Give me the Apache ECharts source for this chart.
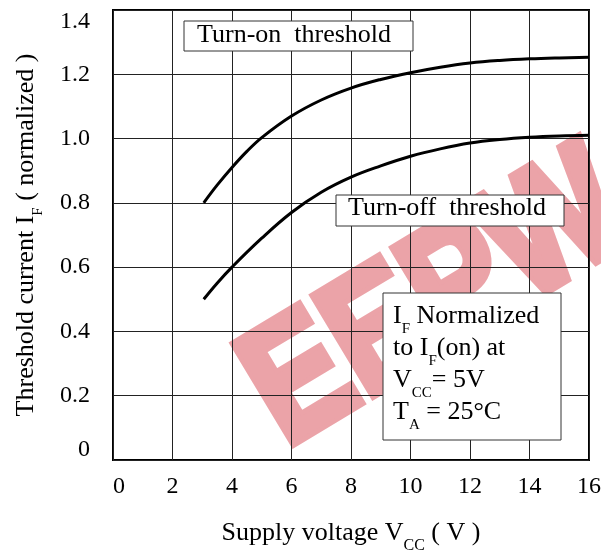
<!DOCTYPE html>
<html>
<head>
<meta charset="utf-8">
<script src="https://cdn.jsdelivr.net/npm/echarts@6/dist/echarts.min.js"></script>
<style>
html,body{margin:0;padding:0;background:#fff;}
#c{width:601px;height:553px;}
</style>
</head>
<body>
<div id="c"></div>
<script>
// ---- data ----
const xTickLabels = ['0','2','4','6','8','10','12','14','16'];
const yTickLabels = ['0','0.2','0.4','0.6','0.8','1.0','1.2','1.4'];
const vccOn  = [3.05, 3.5, 4.0, 4.5, 5.0, 6.0, 7.0, 8.0, 9.0, 10.0, 11.0, 12.0, 13.0, 14.0, 15.0, 16.0];
const ifOn   = [0.80, 0.855, 0.91, 0.96, 1.003, 1.07, 1.12, 1.157, 1.184, 1.205, 1.222, 1.235, 1.243, 1.248, 1.251, 1.253];
const vccOff = [3.05, 3.5, 4.0, 5.0, 6.0, 7.0, 8.0, 9.0, 10.0, 11.0, 12.0, 13.0, 14.0, 15.0, 16.0];
const ifOff  = [0.50, 0.55, 0.60, 0.69, 0.77, 0.833, 0.88, 0.915, 0.945, 0.968, 0.986, 0.997, 1.004, 1.008, 1.01];
const labelOn = 'Turn-on  threshold';
const labelOff = 'Turn-off  threshold';
const noteText = '{n|I}{s|F}{n| Normalized}\n{n|to I}{s|F}{n|(on) at}\n{n|V}{s|CC}{n|= 5V}\n{n|T}{s|A}{n| = 25°C}';
const xName = '{n|Supply voltage V}{s|CC}{n| ( V )}';
const yName = '{n|Threshold current I}{s|F}{n| ( normalized )}';
const watermark = 'EEPW';

const ff = "'Liberation Serif','Times New Roman',serif";
const pair = (xs, ys) => xs.map((x, i) => [x, ys[i]]);

const chart = echarts.init(document.getElementById('c'), null, {renderer: 'canvas'});
const subBox = {fontSize: 15, fontFamily: ff, color: '#000', lineHeight: 4, verticalAlign: 'top', padding: [22, 0, 0, 0]};
const subAxis = {fontSize: 16, fontFamily: ff, color: '#000', lineHeight: 4, verticalAlign: 'top', padding: [20, 0, 0, 0]};
const subY = {fontSize: 15, fontFamily: ff, color: '#000', lineHeight: 4, verticalAlign: 'top', padding: [20, 0, 0, 0]};

chart.setOption({
  animation: false,
  backgroundColor: '#fff',
  grid: {left: 113, right: 12, top: 10, bottom: 93, outerBoundsMode: 'none', containLabel: false,
         show: true, borderColor: '#000', borderWidth: 2, backgroundColor: 'transparent'},
  xAxis: {
    type: 'value', min: 0, max: 16, interval: 2,
    axisLine: {show: false}, axisTick: {show: false},
    splitLine: {show: true, lineStyle: {color: '#222', width: 1}},
    axisLabel: {
      color: '#000', fontFamily: ff, fontSize: 24, margin: 15,
      formatter: v => { const s = xTickLabels[Math.round(v / 2)]; return v === 0 ? '{l|' + s + '}' : s; },
      rich: {l: {padding: [0, 0, 0, 12], fontSize: 24, fontFamily: ff, color: '#000'}}
    },
    name: xName, nameLocation: 'middle', nameGap: 58,
    nameTextStyle: {rich: {n: {fontSize: 26, fontFamily: ff, color: '#000', lineHeight: 30}, s: subAxis}}
  },
  yAxis: {
    type: 'value', min: 0, max: 1.4, interval: 0.2,
    axisLine: {show: false}, axisTick: {show: false},
    splitLine: {show: true, lineStyle: {color: '#222', width: 1}},
    axisLabel: {
      color: '#000', fontFamily: ff, fontSize: 24, margin: 23,
      formatter: v => {
        const i = Math.round(v / 0.2); const s = yTickLabels[i];
        if (i === 7) return '{t|' + s + '}';
        if (i === 0) return '{b|' + s + '}';
        return s;
      },
      rich: {
        t: {padding: [24, 0, 0, 0], fontSize: 24, fontFamily: ff, color: '#000'},
        b: {padding: [0, 0, 20, 0], fontSize: 24, fontFamily: ff, color: '#000'}
      }
    },
    name: yName, nameLocation: 'middle', nameRotate: 90, nameGap: 72,
    nameTextStyle: {rich: {n: {fontSize: 26, fontFamily: ff, color: '#000', lineHeight: 30}, s: subY}}
  },
  series: [
    {type: 'line', data: pair(vccOn, ifOn), smooth: 0.4, showSymbol: false, lineStyle: {color: '#000', width: 3}, z: 3},
    {type: 'line', data: pair(vccOff, ifOff), smooth: 0.4, showSymbol: false, lineStyle: {color: '#000', width: 3}, z: 3}
  ],
  graphic: [
    {type: 'text', z: -10, x: 262, y: 408, rotation: 31 * Math.PI / 180, scaleX: 0.84, silent: true,
     style: {text: watermark, fontSize: 166, fontWeight: 'bold', fontFamily: "'Liberation Sans',Arial,sans-serif",
             fill: '#EBA3A8', stroke: '#EBA3A8', lineWidth: 10, lineJoin: 'miter',
             textAlign: 'left', verticalAlign: 'middle', textVerticalAlign: 'middle'}},
    {type: 'rect', z: 100, shape: {x: 184, y: 21, width: 229, height: 30}, style: {fill: '#fff', stroke: '#333', lineWidth: 1}},
    {type: 'text', z: 101, x: 197, y: 35,
     style: {text: labelOn, fontSize: 26, fontFamily: ff, fill: '#000', textAlign: 'left', verticalAlign: 'middle', textVerticalAlign: 'middle'}},
    {type: 'rect', z: 100, shape: {x: 336, y: 195, width: 228, height: 31}, style: {fill: '#fff', stroke: '#333', lineWidth: 1}},
    {type: 'text', z: 101, x: 348, y: 208,
     style: {text: labelOff, fontSize: 26, fontFamily: ff, fill: '#000', textAlign: 'left', verticalAlign: 'middle', textVerticalAlign: 'middle'}},
    {type: 'rect', z: 100, shape: {x: 383, y: 293, width: 178, height: 147}, style: {fill: '#fff', stroke: '#333', lineWidth: 1}},
    {type: 'text', z: 101, x: 393, y: 300,
     style: {text: noteText, textAlign: 'left', verticalAlign: 'top', textVerticalAlign: 'top',
             rich: {n: {fontSize: 26, fontFamily: ff, color: '#000', lineHeight: 32}, s: subBox}}}
  ]
});
</script>
</body>
</html>
